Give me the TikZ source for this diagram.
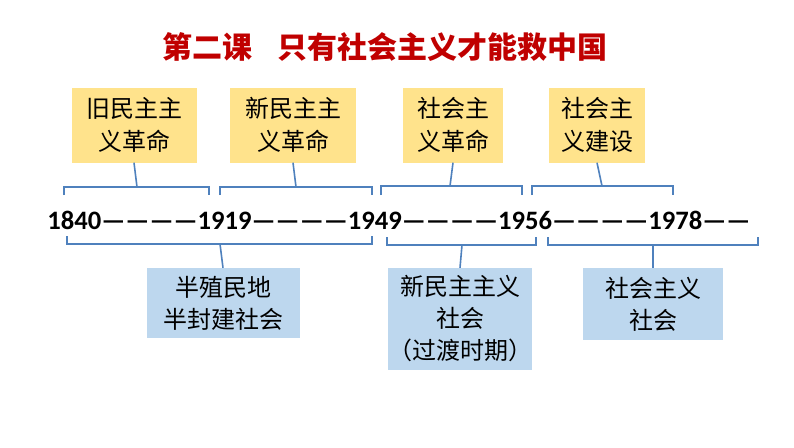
\documentclass[tikz,border=0pt]{standalone}
\usepackage{fontspec}
\setmainfont{Carlito}
\newfontfamily\cjk{Noto Sans CJK SC}
\definecolor{ybox}{HTML}{FFE38C}
\definecolor{bbox}{HTML}{BDD7EE}
\definecolor{brc}{HTML}{4F81BD}
\definecolor{ttl}{HTML}{C00000}
\begin{document}
\begin{tikzpicture}[x=1pt,y=-1pt,
  yb/.style={fill=ybox,inner sep=0pt,align=center,font=\cjk\fontsize{24}{33}\selectfont},
  bb/.style={fill=bbox,inner sep=0pt,align=center,font=\cjk\fontsize{24}{32}\selectfont},
  br/.style={draw=brc,line width=1.6pt}]
\useasboundingbox (0,0) rectangle (794,447);
\node[text=ttl,font=\cjk\bfseries\fontsize{30}{32}\selectfont] (title) at (385,47) {第二课\hspace{26pt}只有社会主义才能救中国};
\node[yb,minimum width=125pt,minimum height=75pt] (a) at (134,125) {旧民主主\\义革命};
\node[yb,minimum width=126pt,minimum height=75pt] (b) at (293,125) {新民主主\\义革命};
\node[yb,minimum width=100pt,minimum height=75pt] (c) at (453,125) {社会主\\义革命};
\node[yb,minimum width=96pt,minimum height=75pt] (d) at (597,125) {社会主\\义建设};
\node[font=\bfseries\fontsize{26.6}{28}\selectfont,inner sep=0pt] (line) at (399,220) {1840————1919————1949————1956————1978——};
\node[bb,minimum width=153pt,minimum height=70pt] (e) at (223,303) {半殖民地\\半封建社会};
\node[bb,minimum width=142pt,minimum height=102pt] (f) at (460,319) {新民主主义\\社会\\（过渡时期）};
\node[bb,minimum width=140pt,minimum height=72pt] (g) at (653,304) {社会主义\\社会};
% top braces
\draw[br] (64,195) -- (64,187) -- (209,187) -- (209,195); \draw[br] (137,187) -- (a.south);
\draw[br] (220,195) -- (220,187) -- (372,187) -- (372,195); \draw[br] (296,187) -- (b.south);
\draw[br] (381,195) -- (381,186) -- (522,186) -- (522,195); \draw[br] (450,186) -- (c.south);
\draw[br] (532,195) -- (532,186) -- (673,186) -- (673,195); \draw[br] (602,186) -- (d.south);
% bottom braces
\draw[br] (67,236) -- (67,244) -- (372,244) -- (372,236); \draw[br] (220,244) -- (e.north);
\draw[br] (387,237) -- (387,245) -- (536,245) -- (536,237); \draw[br] (462,245) -- (f.north);
\draw[br] (548,237) -- (548,245) -- (758,245) -- (758,237); \draw[br] (653,245) -- (g.north);
\end{tikzpicture}
\end{document}
